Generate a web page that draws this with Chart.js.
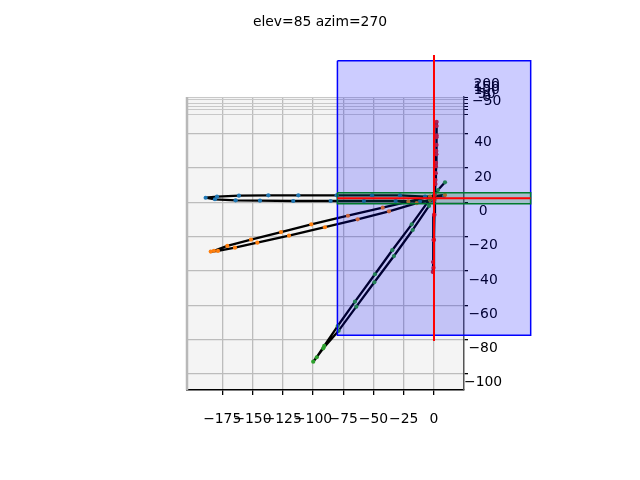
<!DOCTYPE html>
<html>
<head>
<meta charset="utf-8">
<title>elev=85 azim=270</title>
<style>
    html, body { margin: 0; padding: 0; background: #fff; }
    canvas { display: block; }
</style>
<script src="https://cdn.jsdelivr.net/npm/chart.js@4/dist/chart.umd.js"></script>
</head>
<body>
<canvas id="chart" width="640" height="480"></canvas>
<script>
var xTicks = [-175, -150, -125, -100, -75, -50, -25, 0];
var yTicks = [-100, -80, -60, -40, -20, 0, 20, 40];
var zTickValues = [51.4, 53.9, 55.8, 57.8, 59.7, 61.4];
var zTickLabels = ['\u221250', '0', '50', '100', '150', '200'];

var blueX = [8.3, -7.4, -28.1, -51.2, -80.4, -112.1, -136.9, -161.2, -179.3, -188.7, -181, -163.9, -143.8, -116.3, -85.4, -57.9, -31.7, -11.6, 0];
var blueY = [3.7, 3.3, 4.1, 4.1, 4.1, 4.1, 4.1, 3.9, 3.3, 2.7, 1.8, 1.2, 1, 0.8, 0.8, 0.8, 0.8, 0.5, 0.8];

var orangeX = [9.1, -3.3, -21.2, -42.4, -71.1, -101.4, -126.4, -151.2, -170.8, -181.8, -184.5, -178.5, -164.5, -146, -119.8, -90.1, -63.1, -37.2, -14.3, -3.3];
var orangeY = [4.3, 3.3, 0.4, -3.1, -7.8, -12.8, -17.3, -21.7, -25.4, -28.2, -28.7, -28.3, -26.4, -23.5, -19.4, -14.5, -9.9, -5.2, -0.5, 1.4];

var greenX = [9.1, 3.3, -3.3, -18.4, -34.5, -48.8, -65.3, -79.6, -90.7, -96.9, -99.8, -91.5, -78.8, -64.2, -49.3, -33.1, -17.6, -4.1];
var greenY = [11.7, 7.2, 2, -12.8, -27.9, -41.9, -57.9, -72.1, -83.7, -90.3, -92.9, -85.1, -74.8, -60.8, -46.6, -31.3, -16.1, -2.1];

var redX = [2.2, 2.2, 2.2, 2.1, 2, 1.7, 1.5, 1.2, 0.4, 0, -0.4, -0.8, -1, -0.4, 0, 0.4, 0.8, 1.2, 1.6, 1.9, 2.1];
var redY = [46.9, 44.5, 39, 33.5, 28, 23, 17, 10.7, 1.4, -7.3, -21.9, -34.8, -40.6, -38.2, -21.9, -7.3, 4.3, 13, 21, 30, 38];

var planeBlueX = [-79.8, 79.9, 79.9, -79.8, -79.8];
var planeBlueY = [82.6, 82.6, -77.5, -77.5, 82.6];
var planeGreenX = [-79.8, 79.9, 79.9, -79.8, -79.8];
var planeGreenY = [5.66, 5.66, -0.76, -0.76, 5.66];
var edgeRedX = [-79.8, 79.9];
var edgeRedY = [2.4, 2.4];
var axisRedX = [0, 0];
var axisRedY = [85.9, -80.8];

var X_MIN = -204.1, X_MAX = 24.8, Y_MIN = -109.4, Y_MAX = 61.5;
var FONT = { family: '"DejaVu Sans"', size: 13.9 };

function pts(xs, ys) {
    return xs.map(function (x, i) { return { x: x, y: ys[i] }; });
}

function pathSet(xs, ys) {
    return { data: pts(xs, ys), showLine: true, borderColor: '#000', borderWidth: 2.3, borderJoinStyle: 'round', pointRadius: 0 };
}

function dotSet(xs, ys, color) {
    return { data: pts(xs, ys), showLine: false, pointRadius: 2.1, pointBackgroundColor: color, pointBorderWidth: 0 };
}

function planeSet(xs, ys, edge, fill, width) {
    return { data: pts(xs, ys), showLine: true, borderColor: edge, borderWidth: width, pointRadius: 0, shapeFill: fill };
}

var layers = [
    { data: pts([X_MIN, X_MIN], [Y_MAX, Y_MIN]), showLine: true, borderColor: '#b8b8b8', borderWidth: 2.5, pointRadius: 0 },
    pathSet(blueX, blueY),
    pathSet(orangeX, orangeY),
    pathSet(greenX, greenY),
    pathSet(redX, redY),
    dotSet(blueX, blueY, '#1f77b4'),
    dotSet(orangeX, orangeY, '#ff7f0e'),
    dotSet(greenX, greenY, '#2ca02c'),
    dotSet(redX, redY, '#d62728'),
    planeSet(planeBlueX, planeBlueY, '#0000ff', 'rgba(0, 0, 255, 0.2)', 1.5),
    planeSet(planeGreenX, planeGreenY, '#007a33', 'rgba(0, 128, 0, 0.2)', 1.5),
    planeSet(edgeRedX, edgeRedY, '#ff0000', null, 2),
    planeSet(axisRedX, axisRedY, '#ff0000', null, 2),
];
// chart.js draws low order on top, the list above runs back to front
layers.forEach(function (ds, i) {
    ds.order = layers.length - i;
    ds.clip = false;
    ds.xAxisID = 'x';
    ds.yAxisID = 'y';
});

var paneAndPlanes = {
    id: 'paneAndPlanes',
    // z shares the box of y, both are on the right of the pane
    afterLayout: function (chart) {
        var z = chart.scales.z, y = chart.scales.y;
        z.left = y.left;
        z.right = y.right;
        z.width = y.width;
    },
    beforeDraw: function (chart) {
        var a = chart.chartArea, ctx = chart.ctx;
        ctx.save();
        ctx.fillStyle = '#f4f4f4';
        ctx.fillRect(a.left, a.top, a.right - a.left, a.bottom - a.top);
        ctx.restore();
    },
    // the filler plugin clips to the chart area and the planes stick out of it
    afterDatasetDraw: function (chart, args) {
        var ds = chart.data.datasets[args.index];
        if (!ds.shapeFill) return;
        var ctx = chart.ctx, points = args.meta.data;
        ctx.save();
        ctx.fillStyle = ds.shapeFill;
        ctx.beginPath();
        points.forEach(function (p, i) {
            if (i === 0) ctx.moveTo(p.x, p.y); else ctx.lineTo(p.x, p.y);
        });
        ctx.closePath();
        ctx.fill();
        ctx.restore();
    },
};

function setTicks(values) {
    return function (scale) {
        scale.ticks = values.map(function (v) { return { value: v }; });
    };
}

function minus(v) {
    return String(v).replace('-', '\u2212');
}

new Chart(document.getElementById('chart'), {
    type: 'scatter',
    data: { datasets: layers },
    plugins: [paneAndPlanes],
    options: {
        responsive: false,
        animation: false,
        events: [],
        layout: { padding: 0 },
        plugins: {
            legend: { display: false },
            tooltip: { enabled: false },
            title: {
                display: true,
                text: 'elev=85 azim=270',
                color: '#000',
                font: { family: FONT.family, size: FONT.size, weight: 'normal' },
                padding: { top: 13.6, bottom: 66.6 },
            },
        },
        scales: {
            x: {
                type: 'linear',
                position: 'bottom',
                min: X_MIN,
                max: X_MAX,
                afterBuildTicks: setTicks(xTicks),
                afterFit: function (s) { s.height = 90; s.paddingLeft = 0; s.paddingRight = 0; },
                grid: { color: '#bcbcbc', tickColor: '#000', tickLength: 5, lineWidth: 1.3 },
                border: { display: true, color: '#000', width: 1.5 },
                ticks: {
                    color: '#000',
                    font: FONT,
                    padding: 16,
                    autoSkip: false,
                    minRotation: 0,
                    maxRotation: 0,
                    callback: minus,
                },
            },
            // only reserves the room left of the pane
            spacer: {
                type: 'linear',
                position: 'left',
                ticks: { display: false },
                grid: { display: false },
                border: { display: false },
                afterFit: function (s) { s.width = 187; s.paddingTop = 0; s.paddingBottom = 0; },
            },
            z: {
                type: 'linear',
                position: 'right',
                weight: -1,
                min: Y_MIN,
                max: Y_MAX,
                afterBuildTicks: setTicks(zTickValues),
                afterFit: function (s) { s.width = 0; s.paddingTop = 0; s.paddingBottom = 0; },
                grid: { color: '#c8c8c8', tickColor: '#000', tickLength: 4, lineWidth: 1 },
                border: { display: false },
                ticks: {
                    color: '#000',
                    font: FONT,
                    padding: 4,
                    labelOffset: -12.5,
                    crossAlign: 'center',
                    autoSkip: false,
                    callback: function (v, i) { return zTickLabels[i]; },
                },
            },
            y: {
                type: 'linear',
                position: 'right',
                min: Y_MIN,
                max: Y_MAX,
                afterBuildTicks: setTicks(yTicks),
                afterFit: function (s) { s.width = 176; s.paddingTop = 0; s.paddingBottom = 0; },
                grid: { color: '#bcbcbc', tickColor: '#000', tickLength: 4, lineWidth: 1.3 },
                border: { display: true, color: '#555', width: 1.5 },
                ticks: {
                    color: '#000',
                    font: FONT,
                    padding: -4,
                    labelOffset: 9,
                    crossAlign: 'center',
                    autoSkip: false,
                    callback: minus,
                },
            },
        },
    },
});
</script>
</body>
</html>
